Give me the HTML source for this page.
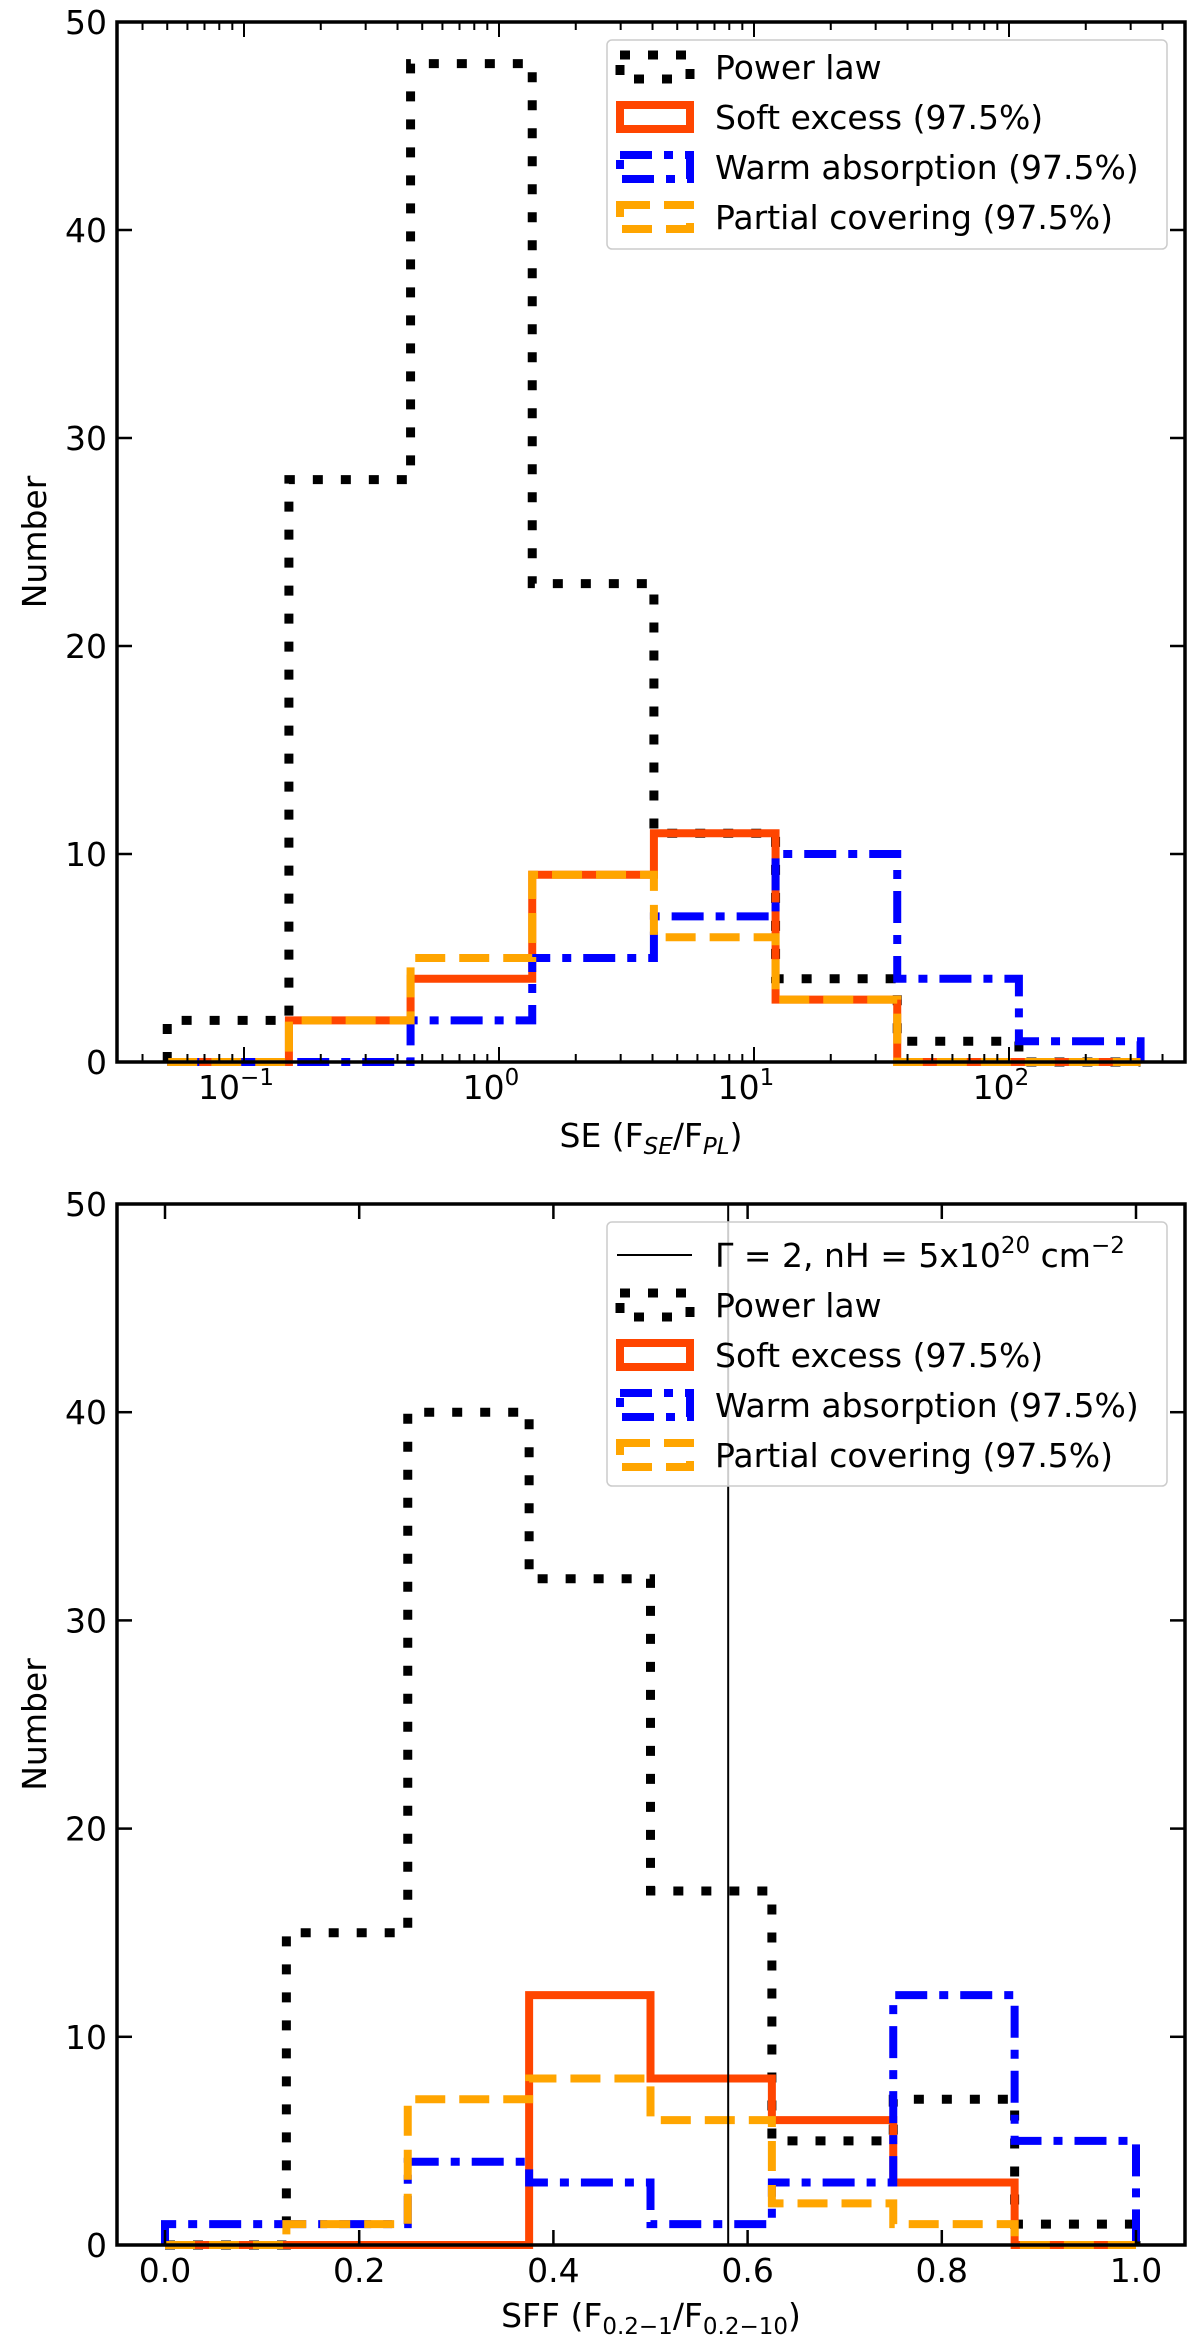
<!DOCTYPE html>
<html><head><meta charset="utf-8"><style>
html,body{margin:0;padding:0;background:#fff;}
svg{display:block;font-family:"DejaVu Sans","Liberation Sans",sans-serif;}
</style></head><body>
<svg id="fig" width="1200" height="2352" viewBox="0 0 1200 2352" xmlns="http://www.w3.org/2000/svg"></svg>
<script>
// ---- data: top panel (SE) ----
const seEdges = [0.05, 0.15, 0.45, 1.35, 4.05, 12.15, 36.45, 109.35, 328.05];
const sePL = [2, 28, 48, 23, 11, 4, 1, 0];
const seSoft = [0, 2, 4, 9, 11, 3, 0, 0];
const seWarm = [0, 0, 2, 5, 7, 10, 4, 1];
const sePartial = [0, 2, 5, 9, 6, 3, 0, 0];
const seTickLabels = ["-1", "0", "1", "2"];
// ---- data: bottom panel (SFF) ----
const sffEdges = [0, 0.125, 0.25, 0.375, 0.5, 0.625, 0.75, 0.875, 1.0];
const sffPL = [0, 15, 40, 32, 17, 5, 7, 1];
const sffSoft = [0, 0, 0, 12, 8, 6, 3, 0];
const sffWarm = [1, 1, 4, 3, 1, 3, 12, 5];
const sffPartial = [0, 1, 7, 8, 6, 2, 1, 0];
const sffRefLine = 0.58;
const sffTickLabels = ["0.0", "0.2", "0.4", "0.6", "0.8", "1.0"];
const yTickLabels = ["0", "10", "20", "30", "40", "50"];

const NS = "http://www.w3.org/2000/svg";
const svg = document.getElementById("fig");
function mk(tag, attrs, parent) {
  const e = document.createElementNS(NS, tag);
  for (const k in attrs) e.setAttribute(k, attrs[k]);
  (parent || svg).appendChild(e);
  return e;
}
const L = 117, R = 1185;
const FS = 33, SFS = 23;
const styles = {
  pl: {stroke: "#000", dash: "10,18", w: 9},
  soft: {stroke: "#ff4500", dash: "", w: 8},
  warm: {stroke: "#0000ff", dash: "32,12,9,12", w: 8},
  partial: {stroke: "#ffa500", dash: "30,14", w: 8}
};
function stepPath(edges, vals, xf, yf) {
  let d = "M" + xf(edges[0]) + "," + yf(0);
  for (let i = 0; i < vals.length; i++) {
    d += " L" + xf(edges[i]) + "," + yf(vals[i]) + " L" + xf(edges[i + 1]) + "," + yf(vals[i]);
  }
  d += " L" + xf(edges[edges.length - 1]) + "," + yf(0);
  return d;
}
function panel(cfg) {
  const g = mk("g", {});
  
  
  const T = cfg.top, B = cfg.bottom;
  const yf = v => B - (B - T) * v / 50;
  const order = [["pl", cfg.pl], ["soft", cfg.soft], ["warm", cfg.warm], ["partial", cfg.partial]];
  for (const [k, vals] of order) {
    const s = styles[k];
    const p = mk("path", {d: stepPath(cfg.edges, vals, cfg.xf, yf), fill: "none", stroke: s.stroke, "stroke-width": s.w, "stroke-dasharray": s.dash, "stroke-linejoin": "miter"}, g);
    
    
  }
  if (cfg.ref !== undefined) {
    const ln = mk("line", {x1: cfg.xf(cfg.ref), x2: cfg.xf(cfg.ref), y1: T, y2: B, stroke: "#000", "stroke-width": 2}, g);
    
    
  }
  const fr = mk("rect", {x: L, y: T, width: R - L, height: B - T, fill: "none", stroke: "#000", "stroke-width": 3.5}, g);
  
  
  for (let i = 0; i < yTickLabels.length; i++) {
    const v = +yTickLabels[i], y = yf(v);
    mk("line", {x1: L, x2: L + 15, y1: y, y2: y, stroke: "#000", "stroke-width": 2.5}, g);
    mk("line", {x1: R, x2: R - 15, y1: y, y2: y, stroke: "#000", "stroke-width": 2.5}, g);
    const t = mk("text", {x: 107, y: y + 12, "text-anchor": "end", "font-size": FS}, g);
    t.textContent = yTickLabels[i];
    
    
  }
  cfg.xticks(g);
  const yl = mk("text", {x: 0, y: 0, transform: "translate(46," + ((T + B) / 2) + ") rotate(-90)", "text-anchor": "middle", "font-size": FS}, g);
  yl.textContent = "Number";
  
  
  const lg = mk("g", {}, g);
  
  
  mk("rect", {x: 607, y: cfg.legTop, width: 560, height: cfg.legH, rx: 5, fill: "#fff", "fill-opacity": 0.8, stroke: "#ccc", "stroke-width": 1.5}, lg);
  cfg.legend.forEach((it, i) => {
    const cy = cfg.legRow0 + i * 50;
    const e = mk("g", {}, lg);
    
    
    if (it.k === "line") {
      mk("line", {x1: 617, x2: 692, y1: cy, y2: cy, stroke: "#000", "stroke-width": 2}, e);
    } else {
      const s = styles[it.k];
      mk("rect", {x: 620, y: cy - 12, width: 70, height: 24, fill: "none", stroke: s.stroke, "stroke-width": s.w, "stroke-dasharray": s.dash}, e);
    }
    const t = mk("text", {x: 715, y: cy + 12, "font-size": FS}, e);
    t.innerHTML = it.label;
  });
}
const seX = v => 499 + 255 * Math.log10(v);
panel({name: "se-panel", top: 22, bottom: 1062, edges: seEdges, pl: sePL, soft: seSoft, warm: seWarm, partial: sePartial, xf: seX,
  legTop: 40, legH: 209, legRow0: 67,
  legend: [{k: "pl", label: "Power law"}, {k: "soft", label: "Soft excess (97.5%)"}, {k: "warm", label: "Warm absorption (97.5%)"}, {k: "partial", label: "Partial covering (97.5%)"}],
  xticks: g => {
    for (let d = -2; d <= 2; d++) for (let m = 1; m <= 9; m++) {
      const v = m * Math.pow(10, d), x = seX(v);
      if (x < L || x > R) continue;
      const len = m === 1 ? 15 : 8;
      mk("line", {x1: x, x2: x, y1: 1062, y2: 1062 - len, stroke: "#000", "stroke-width": 2}, g);
      mk("line", {x1: x, x2: x, y1: 22, y2: 22 + len, stroke: "#000", "stroke-width": 2}, g);
    }
    seTickLabels.forEach(e => {
      const t = mk("text", {x: seX(Math.pow(10, +e)) - 8, y: 1099, "text-anchor": "middle", "font-size": FS}, g);
      t.innerHTML = '10<tspan dy="-14" font-size="' + SFS + '">' + (e.startsWith("-") ? "\u2212" + e.slice(1) : e) + '</tspan>';
      
      
    });
    const xl = mk("text", {x: 651, y: 1147, "text-anchor": "middle", "font-size": FS}, g);
    xl.innerHTML = 'SE (F<tspan dy="7" font-size="' + SFS + '" font-style="italic">SE</tspan><tspan dy="-7">/F</tspan><tspan dy="7" font-size="' + SFS + '" font-style="italic">PL</tspan><tspan dy="-7">)</tspan>';
    
    
  }
});
const sffX = v => 165 + 971 * v;
panel({name: "sff-panel", top: 1204, bottom: 2245, edges: sffEdges, pl: sffPL, soft: sffSoft, warm: sffWarm, partial: sffPartial, xf: sffX, ref: sffRefLine,
  legTop: 1222, legH: 264, legRow0: 1255,
  legend: [{k: "line", label: 'Γ = 2, nH = 5x10<tspan dy="-14" font-size="' + SFS + '">20</tspan><tspan dy="14"> cm</tspan><tspan dy="-14" font-size="' + SFS + '">−2</tspan>'}, {k: "pl", label: "Power law"}, {k: "soft", label: "Soft excess (97.5%)"}, {k: "warm", label: "Warm absorption (97.5%)"}, {k: "partial", label: "Partial covering (97.5%)"}],
  xticks: g => {
    sffTickLabels.forEach(lb => {
      const x = sffX(+lb);
      mk("line", {x1: x, x2: x, y1: 2245, y2: 2230, stroke: "#000", "stroke-width": 2.5}, g);
      mk("line", {x1: x, x2: x, y1: 1204, y2: 1219, stroke: "#000", "stroke-width": 2.5}, g);
      const t = mk("text", {x: x, y: 2282, "text-anchor": "middle", "font-size": FS}, g);
      t.textContent = lb;
      
      
    });
    const xl = mk("text", {x: 651, y: 2327, "text-anchor": "middle", "font-size": FS}, g);
    xl.innerHTML = 'SFF (F<tspan dy="7" font-size="' + SFS + '">0.2−1</tspan><tspan dy="-7">/F</tspan><tspan dy="7" font-size="' + SFS + '">0.2−10</tspan><tspan dy="-7">)</tspan>';
    
    
  }
});
</script>
</body></html>
